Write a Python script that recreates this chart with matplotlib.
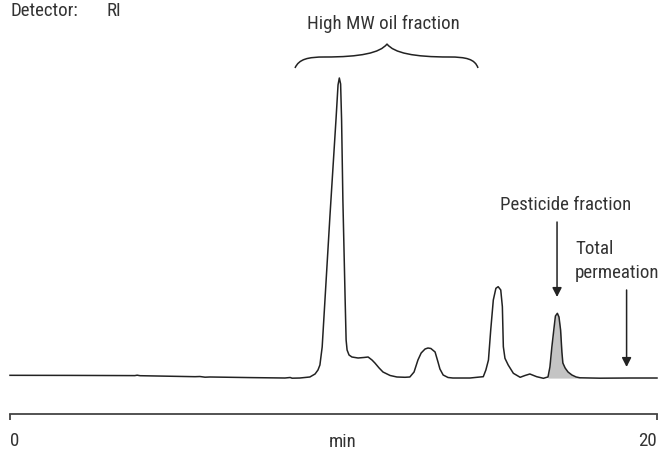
import matplotlib
matplotlib.use("Agg")
import matplotlib.pyplot as plt
from matplotlib.path import Path
from matplotlib.patches import PathPatch
from matplotlib import font_manager as fm
import numpy as np

# ---- data: chromatogram (time in min, relative RI signal) ----
time_min = [0.00, 1.85, 3.86, 3.93, 4.02, 5.72, 5.87, 6.03, 6.18, 7.42,
            8.50, 8.66, 8.72, 8.96, 9.27, 9.43, 9.52, 9.58, 9.65, 9.89,
            10.08, 10.14, 10.18, 10.22, 10.25, 10.29, 10.36, 10.39, 10.42, 10.48,
            10.57, 10.76, 10.94, 11.07, 11.19, 11.28, 11.41, 11.53, 11.75, 11.96,
            12.21, 12.36, 12.49, 12.61, 12.71, 12.83, 12.92, 13.01, 13.14, 13.23,
            13.29, 13.39, 13.54, 13.69, 14.22, 14.53, 14.63, 14.71, 14.79, 14.86,
            14.94, 15.02, 15.09, 15.17, 15.22, 15.25, 15.30, 15.40, 15.56, 15.77,
            15.92, 16.07, 16.28, 16.49, 16.57, 16.63, 16.69, 16.75, 16.82, 16.86,
            16.92, 16.97, 17.02, 17.06, 17.09, 17.16, 17.25, 17.37, 17.50, 17.62,
            18.24, 19.17, 20.00]
signal = [0.73, 0.70, 0.63, 0.77, 0.60, 0.27, 0.33, 0.10, 0.17, -0.03,
          -0.17, 0.00, -0.23, -0.17, 0.17, 1.17, 2.50, 4.17, 10.17, 53.83,
          86.50, 97.50, 99.83, 97.83, 85.83, 59.17, 25.83, 12.50, 9.17, 7.50,
          6.83, 6.50, 6.67, 6.83, 5.83, 4.83, 3.17, 1.83, 0.67, 0.17,
          0.07, 0.17, 1.83, 5.83, 8.17, 9.50, 9.83, 9.67, 8.50, 5.17,
          2.83, 0.83, 0.00, -0.17, -0.17, 0.17, 0.27, 2.50, 5.83, 15.83,
          25.83, 29.73, 30.27, 29.17, 23.60, 10.27, 6.40, 4.17, 1.40, 0.07,
          0.67, 1.17, 0.27, -0.27, 0.00, 0.17, 3.50, 10.17, 16.83, 20.50,
          21.40, 20.17, 15.83, 8.50, 4.83, 3.17, 1.83, 0.83, 0.17, -0.10,
          -0.23, -0.17, -0.17]
shade_start, shade_end = 16.63, 17.62     # pesticide fraction (shaded)
pesticide_time = 16.91
permeation_time = 19.06
xtick_values = [0, 20]
xtick_labels = ['0', '20']
x_label = 'min'


# ---- pick a condensed sans font if one is installed ----
def pick_font():
    entries = fm.fontManager.ttflist
    names = {f.name for f in entries}
    for name in ['Roboto Condensed', 'Liberation Sans Narrow', 'Open Sans Condensed',
                 'Noto Sans Condensed', 'DejaVu Sans Condensed']:
        if name in names:
            return fm.FontProperties(family=name)
    return fm.FontProperties(family='Roboto')

FONT = pick_font()

W, H = 660, 451
fig = plt.figure(figsize=(W / 100, H / 100), dpi=100)
renderer = fig.canvas.get_renderer()

def fx(px):
    return px / W

def fy(py):
    return 1 - py / H

txt_col = '#333333'

# one common font size, chosen so that the two long labels get their reference widths
def width_at(s, size):
    p = fig.text(0, 0, s, fontproperties=FONT.copy())
    p.set_fontsize(size)
    w = p.get_window_extent(renderer).width
    p.remove()
    return w

ref_size = 12
scale = (126 + 157) / (width_at('Pesticide fraction', ref_size) + width_at('High MW oil fraction', ref_size))
FS = min(ref_size * scale, 15)

def label(x, cy, s, ha='left'):
    t = fig.text(fx(x), fy(cy), s, ha=ha, va='center', fontproperties=FONT.copy(), color=txt_col)
    t.set_fontsize(FS)
    return t

# axes: x 0..20 -> px 10..657 ; bottom spine at px 414
ax_left, ax_right = 10, 657
ax_bottom_px = 414
ax = fig.add_axes([fx(ax_left), fy(ax_bottom_px), (ax_right - ax_left) / W, ax_bottom_px / H])
ax.set_xlim(0, 20)
ax.set_ylim(-(ax_bottom_px - 377.5) / 3.0, 377.5 / 3.0)
ax.patch.set_alpha(0)

t = np.array(time_min)
s = np.array(signal)
line_col = '#222222'
ax.plot(t, s, color=line_col, lw=1.1, solid_joinstyle='round', clip_on=False, zorder=3)
mask = (t >= shade_start) & (t <= shade_end)
ax.fill_between(t[mask], s[mask], -0.2, color='#c4c4c4', lw=0, zorder=2)

for sp in ['left', 'top', 'right']:
    ax.spines[sp].set_visible(False)
ax.spines['bottom'].set_color('#444444')
ax.spines['bottom'].set_linewidth(1.3)
ax.set_yticks([])
ax.set_xticks(xtick_values)
ax.set_xticklabels(xtick_labels)
ax.tick_params(axis='x', direction='out', length=4, width=1.3, color='#444444',
               labelcolor=txt_col, pad=9)
labs = ax.get_xticklabels()
for lab in labs:
    lab.set_fontproperties(FONT.copy())
    lab.set_fontsize(FS)
labs[0].set_ha('left')
labs[1].set_ha('right')

label(343, 442, x_label, ha='center')
label(10, 11, 'Detector:', ha='left')
label(107, 11, 'RI', ha='left')
label(383.5, 24, 'High MW oil fraction', ha='center')
label(566, 205, 'Pesticide fraction', ha='center')
label(575, 249, 'Total', ha='left')
label(575, 273, 'permeation', ha='left')

# arrows
def ypix_to_data(py):
    return (377.5 - py) / 3.0

arrow_kw = dict(arrowstyle='-|>,head_length=0.55,head_width=0.28', color='#222222', lw=1.1,
                shrinkA=0, shrinkB=0)
ax.annotate('', xy=(pesticide_time, ypix_to_data(297)), xytext=(pesticide_time, ypix_to_data(222)),
            arrowprops=arrow_kw, annotation_clip=False)
ax.annotate('', xy=(permeation_time, ypix_to_data(367)), xytext=(permeation_time, ypix_to_data(290)),
            arrowprops=arrow_kw, annotation_clip=False)

# brace over the high-MW oil fraction
bx0, bx1, btip, ytip, yarm, yend = 295, 478, 387, 44, 57, 68
verts = [(bx0, yend), (299, 59), (308, yarm), (325, yarm),
         (360, yarm), (380, 53), (btip, ytip),
         (394, 53), (414, yarm), (449, yarm),
         (466, yarm), (475, 59), (bx1, yend)]
codes = [Path.MOVETO] + [Path.CURVE4] * 12
verts_fig = [(fx(x), fy(y)) for x, y in verts]
brace = PathPatch(Path(verts_fig, codes), transform=fig.transFigure, fill=False,
                  edgecolor='#222222', lw=1.1)
fig.patches.append(brace)

fig.savefig('out.png', dpi=100)
